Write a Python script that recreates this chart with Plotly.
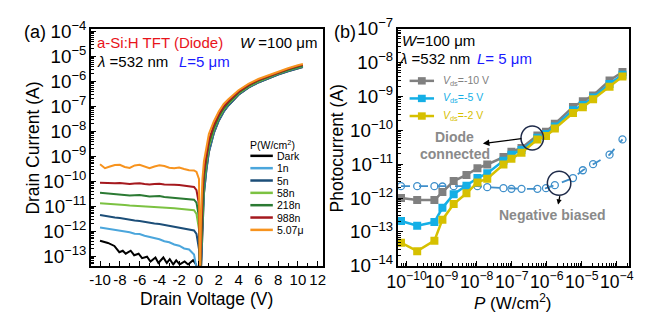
import plotly.graph_objects as go
import numpy as np

# ---------------- Panel (a) data: drain current vs drain voltage ----------------
V = [-10, -9.5, -9, -8.5, -8, -7.5, -7, -6.5, -6, -5.5, -5, -4.5, -4, -3.5, -3, -2.5, -2, -1.5, -1, -0.5,
     -0.25, 0, 0.1, 0.2, 0.35, 0.5, 0.75, 1, 1.5, 2, 2.5, 3, 4, 5, 6, 7, 8, 9, 10, 10.5]

# log10 of drain current (A)
logI_1n = [-11.84, -11.87, -11.89, -11.94, -11.95, -12.01, -12.03, -12.09, -12.10, -12.17, -12.21, -12.28, -12.31,
           -12.39, -12.43, -12.52, -12.57, -12.68, -12.72, -12.92, -13.5, -14.0, -14.0,
           -13.5, -11.7, -10.45, -9.5, -8.8, -8.05, -7.55, -7.2, -6.94, -6.52, -6.24, -6.03, -5.86, -5.71, -5.58, -5.46, -5.41]
logI_5n = [-11.34, -11.38, -11.40, -11.44, -11.46, -11.50, -11.52, -11.56, -11.58, -11.62, -11.64, -11.68, -11.70,
           -11.74, -11.77, -11.80, -11.84, -11.88, -11.91, -11.96, -12.1, -12.7, -13.8,
           -13.3, -11.5, -10.3, -9.4, -8.73, -8.0, -7.52, -7.17, -6.92, -6.51, -6.23, -6.02, -5.85, -5.7, -5.57, -5.45, -5.40]
logI_58n = [-10.87, -10.89, -10.90, -10.92, -10.93, -10.94, -10.96, -10.97, -10.98, -11.00, -11.01, -11.02, -11.03,
            -11.05, -11.06, -11.07, -11.09, -11.10, -11.12, -11.15, -11.3, -11.9, -13.8,
            -13.0, -11.2, -10.1, -9.25, -8.62, -7.93, -7.46, -7.12, -6.88, -6.48, -6.21, -6.0, -5.83, -5.68, -5.55, -5.43, -5.38]
logI_218n = [-10.45, -10.47, -10.50, -10.52, -10.51, -10.53, -10.56, -10.55, -10.54, -10.57, -10.60, -10.59, -10.58,
             -10.62, -10.64, -10.63, -10.65, -10.68, -10.70, -10.73, -10.85, -11.4, -13.8,
             -12.8, -10.9, -9.9, -9.1, -8.5, -7.85, -7.4, -7.07, -6.84, -6.45, -6.18, -5.97, -5.81, -5.66, -5.53, -5.41, -5.36]
logI_988n = [-10.05, -10.06, -10.08, -10.07, -10.06, -10.09, -10.10, -10.08, -10.07, -10.10, -10.12, -10.10, -10.09,
             -10.12, -10.14, -10.13, -10.14, -10.17, -10.18, -10.22, -10.35, -10.9, -13.8,
             -12.3, -10.5, -9.6, -8.9, -8.35, -7.75, -7.32, -7.0, -6.78, -6.41, -6.15, -5.94, -5.79, -5.63, -5.50, -5.38, -5.33]
logI_5u = [-9.31, -9.47, -9.40, -9.34, -9.33, -9.42, -9.46, -9.36, -9.33, -9.40, -9.47, -9.40, -9.35,
           -9.38, -9.45, -9.47, -9.44, -9.50, -9.55, -9.56, -9.62, -9.9, -13.8,
           -11.5, -9.9, -9.2, -8.6, -8.1, -7.6, -7.2, -6.9, -6.7, -6.35, -6.1, -5.9, -5.75, -5.6, -5.47, -5.35, -5.30]

V_dark = [-10, -9.2, -8.55, -8.05, -7.7, -7.4, -6.9, -6.55, -6.1, -5.75, -5.25, -4.9, -4.4, -4.1, -3.6, -3.25,
          -2.95, -2.6, -2.3, -1.95, -1.45, -1.1, -0.6, -0.3, -0.1, 0.05,
          0.2, 0.35, 0.5, 0.75, 1, 1.5, 2, 2.5, 3, 4, 5, 6, 7, 8, 9, 10, 10.5]
logI_dark = [-12.37, -12.46, -12.58, -12.83, -12.77, -12.89, -12.77, -12.95, -12.89, -13.07, -13.01, -13.20, -13.04,
             -13.26, -13.04, -13.26, -13.11, -13.32, -13.16, -13.32, -13.20, -13.32, -13.15, -13.32, -13.6, -14.0,
             -13.6, -11.8, -10.5, -9.55, -8.83, -8.07, -7.57, -7.21, -6.95, -6.53, -6.25, -6.04, -5.87, -5.72, -5.59,
             -5.47, -5.42]

series_a = ["Dark", "1n", "5n", "58n", "218n", "988n", "5.07μ"]
colors_a = ["#000000", "#4ba6dc", "#1c4e78", "#7cc242", "#2b7a33", "#a5191e", "#f7931e"]
ticks_a = [-10, -8, -6, -4, -2, 0, 2, 4, 6, 8, 10, 12]
ticklabels_a = ["-10", "-8", "-6", "-4", "-2", "0", "2", "4", "6", "8", "10", "12"]

# ---------------- Panel (b) data: photocurrent vs power density ----------------
P = [6.9e-11, 2.0e-10, 6.2e-10, 1.05e-9, 2.2e-9, 5.1e-9, 1.05e-8, 2.0e-8, 5.8e-8, 9.8e-8, 1.9e-7,
     5.4e-7, 9.5e-7, 1.7e-6, 5.6e-6, 1.07e-5, 2.1e-5, 6.2e-5, 1.45e-4]
logIph_10V = [-12.00, -12.06, -12.06, -11.82, -11.50, -11.32, -11.12, -11.01, -10.79, -10.63, -10.52,
              -10.15, -10.04, -9.81, -9.31, -9.14, -8.97, -8.53, -8.28]
logIph_5V = [-12.68, -12.82, -12.71, -12.29, -11.89, -11.64, -11.41, -11.27, -10.90, -10.72, -10.58,
             -10.22, -10.11, -9.89, -9.41, -9.25, -9.03, -8.63, -8.36]
logIph_2V = [-13.32, -13.57, -13.26, -12.64, -12.18, -11.86, -11.54, -11.43, -11.01, -10.84, -10.66,
             -10.27, -10.17, -9.95, -9.49, -9.32, -9.08, -8.71, -8.41]
logIph_neg = [-11.65, -11.65, -11.65, -11.66, -11.65, -11.65, -11.65, -11.68, -11.71, -11.73, -11.73,
              -11.73, -11.71, -11.62, -11.41, -11.18, -11.00, -10.72, -10.27]

series_b = ["<i>V</i><sub>ds</sub>=-10 V", "<i>V</i><sub>ds</sub>=-5 V", "<i>V</i><sub>ds</sub>=-2 V"]
colors_b = ["#808080", "#14afe6", "#d6c000"]
color_neg = "#3f8fca"

W, H = 652, 323
def X(px):
    return px / W
def Y(py):
    return 1 - py / H

FONT = "Arial, Liberation Sans, sans-serif"
fig = go.Figure()

# panel (a) traces
ys_a = [logI_1n, logI_5n, logI_58n, logI_218n, logI_988n, logI_5u]
fig.add_trace(go.Scatter(x=V_dark, y=np.power(10.0, logI_dark), mode="lines", name="Dark",
                         line=dict(color=colors_a[0], width=2), showlegend=False, xaxis="x", yaxis="y"))
for nm, c, yy in zip(series_a[1:], colors_a[1:], ys_a):
    fig.add_trace(go.Scatter(x=V, y=np.power(10.0, yy), mode="lines", name=nm,
                             line=dict(color=c, width=2), showlegend=False, xaxis="x", yaxis="y"))

# panel (b) traces
fig.add_trace(go.Scatter(x=P, y=np.power(10.0, logIph_neg), mode="lines+markers", name="Negative biased",
                         line=dict(color=color_neg, width=1.8, dash="dash"),
                         marker=dict(symbol="circle-open", size=7, color=color_neg, line=dict(width=1.3)),
                         showlegend=False, xaxis="x2", yaxis="y2"))
for nm, c, yy in zip(series_b, colors_b, [logIph_10V, logIph_5V, logIph_2V]):
    fig.add_trace(go.Scatter(x=P, y=np.power(10.0, yy), mode="lines+markers", name=nm,
                             line=dict(color=c, width=2.5),
                             marker=dict(symbol="square", size=8, color=c),
                             showlegend=False, xaxis="x2", yaxis="y2"))

def axis_common(size):
    return dict(showline=True, linecolor="black", linewidth=1.5, mirror=True, ticks="inside",
                ticklen=5, tickwidth=1.3, tickcolor="black", showgrid=False, zeroline=False,
                tickangle=0, tickfont=dict(family=FONT, size=size, color="black"))

ydom = [Y(273), Y(17)]
fig.update_layout(
    width=W, height=H, margin=dict(l=0, r=0, t=0, b=0),
    paper_bgcolor="white", plot_bgcolor="white", showlegend=False,
    font=dict(family=FONT, color="black"),
    xaxis=dict(domain=[X(82), X(319)], range=[-10.9, 12.5], tickmode="array", tickvals=ticks_a,
               ticktext=ticklabels_a,
               minor=dict(ticks="inside", ticklen=3, dtick=1, tickcolor="black"), anchor="y", **axis_common(15)),
    yaxis=dict(domain=ydom, type="log", range=[-13.37, -3.89], dtick=1, exponentformat="power",
               minor=dict(ticks="inside", ticklen=3, dtick="D1", tickcolor="black"), anchor="x", **axis_common(15)),
    xaxis2=dict(domain=[X(396), X(633)], type="log", range=[-10.25, -3.64], dtick=1, exponentformat="power",
                minor=dict(ticks="inside", ticklen=3, dtick="D1", tickcolor="black"), anchor="y2",
                **axis_common(14)),
    yaxis2=dict(domain=ydom, type="log", range=[-14, -7], dtick=1, exponentformat="power",
                minor=dict(ticks="inside", ticklen=3, dtick="D1", tickcolor="black"), anchor="x2",
                **axis_common(15)),
)

ann = []
def txt(px, py, s, size=13, color="black", xanchor="left", angle=0, bold=False):
    if bold:
        s = "<b>" + s + "</b>"
    ann.append(dict(x=X(px), y=Y(py), xref="paper", yref="paper", text=s, showarrow=False,
                    xanchor=xanchor, yanchor="middle", textangle=angle,
                    font=dict(family=FONT, size=size, color=color)))

# axis titles and panel labels
txt(23, 146, "Drain Current (A)", size=17.5, xanchor="center", angle=-90)
txt(200, 309, "Drain Voltage (V)", size=17.5, xanchor="center")
txt(334, 146, "Photocurrent (A)", size=17.5, xanchor="center", angle=-90)
txt(513, 312, "<i>P</i> (W/cm<sup>2</sup>)", size=17, xanchor="center")
txt(25, 21, "(a)", size=18, xanchor="center")
txt(342, 21, "(b)", size=18, xanchor="center")

# panel (a) annotations
txt(86, 32, "a-Si:H TFT (Diode)", size=15, color="#e8141b")
txt(315, 32, "<i>W</i> =100 μm", size=15, xanchor="right")
txt(86, 52, "<i>λ</i> =532 nm", size=15)
txt(170, 52, "<i>L</i>=5 μm", size=15, color="#1a1aff")

# panel (b) annotations
txt(398, 30, "<i>W</i>=100 μm", size=15)
txt(395, 49, "<i>λ</i> =532 nm", size=15)
txt(475, 49, "<i>L</i>= 5 μm", size=15, color="#1a1aff")
txt(454, 134, "Diode", size=14, color="#8a8a8a", xanchor="center", bold=True)
txt(454, 152, "connected", size=14, color="#8a8a8a", xanchor="center", bold=True)
txt(554, 218, "Negative biased", size=14, color="#8a8a8a", xanchor="center", bold=True)

# arrows
ann.append(dict(x=X(483), y=Y(141), xref="paper", yref="paper", ax=40, ay=-5, axref="pixel", ayref="pixel",
                text="", showarrow=True, arrowhead=2, arrowsize=1, arrowwidth=1.3, arrowcolor="black"))
ann.append(dict(x=X(560), y=Y(207), xref="paper", yref="paper", ax=2, ay=-10, axref="pixel", ayref="pixel",
                text="", showarrow=True, arrowhead=2, arrowsize=0.8, arrowwidth=1.3, arrowcolor="black"))

shapes = []
shapes.append(dict(type="circle", xref="paper", yref="paper", x0=X(522), x1=X(545), y0=Y(148), y1=Y(122),
                   line=dict(color="#1f2b4a", width=1.5)))
shapes.append(dict(type="circle", xref="paper", yref="paper", x0=X(549), x1=X(573), y0=Y(197), y1=Y(171),
                   line=dict(color="#1f2b4a", width=1.5)))

# legend (a)
txt(243, 142, "P(W/cm<sup>2</sup>)", size=10.5)
for i, (nm, c) in enumerate(zip(series_a, colors_a)):
    yy = 154.3 + i * 13.33
    shapes.append(dict(type="line", xref="paper", yref="paper", x0=X(245), x1=X(268), y0=Y(yy), y1=Y(yy),
                       line=dict(color=c, width=2.5)))
    txt(270, yy, nm, size=10.5)

# legend (b)
for i, (nm, c) in enumerate(zip(series_b, colors_b)):
    yy = 73.3 + i * 19
    shapes.append(dict(type="line", xref="paper", yref="paper", x0=X(408), x1=X(433), y0=Y(yy), y1=Y(yy),
                       line=dict(color=c, width=2.5)))
    shapes.append(dict(type="rect", xref="paper", yref="paper", x0=X(416.5), x1=X(424.5), y0=Y(yy + 4),
                       y1=Y(yy - 4), fillcolor=c, line=dict(width=0)))
    txt(440, yy, nm, size=10.5, color=c)

fig.update_layout(annotations=ann, shapes=shapes)
fig.write_html("out.html")
